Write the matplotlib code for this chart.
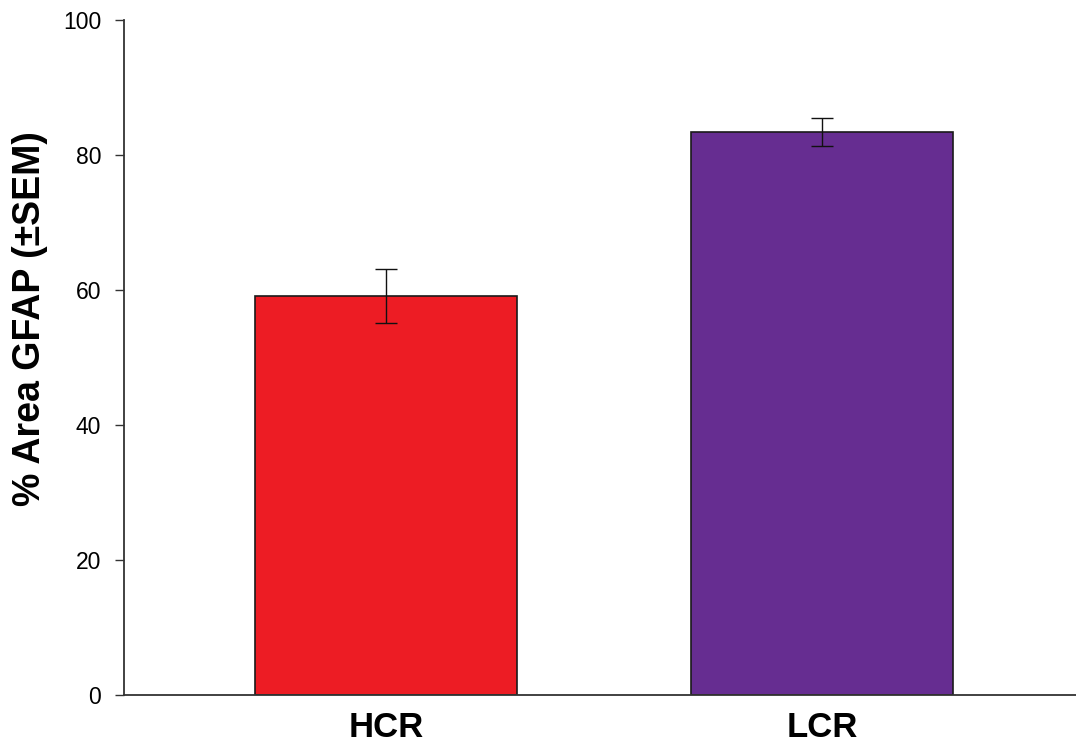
import matplotlib
matplotlib.use('Agg')
import matplotlib.pyplot as plt

# values
groups = ['HCR', 'LCR']
means = [59.1, 83.4]
sems = [4.0, 2.05]
colours = ['#ED1C24', '#662D91']

plt.rcParams['font.family'] = ['Liberation Sans', 'DejaVu Sans']

fig = plt.figure(figsize=(10.76, 7.49), dpi=100)
ax = fig.add_axes([124/1076, 1 - 694.7/749, 1 - 124/1076, (694.7 - 20)/749])

pos = range(len(groups))
ax.bar(pos, means, width=0.6, color=colours, edgecolor='#1a1a1a', linewidth=1.2, zorder=2)
ax.errorbar(pos, means, yerr=sems, fmt='none', ecolor='#111111', elinewidth=1.0,
            capsize=8, capthick=1.0, zorder=3)

ax.set_xlim(-0.601, 1.583)
ax.set_ylim(0, 100)
ax.set_yticks([0, 20, 40, 60, 80, 100])
ax.set_xticks(list(pos))
ax.set_xticklabels(groups, fontsize=25, fontweight='bold')

for s in ['top', 'right']:
    ax.spines[s].set_visible(False)
for s in ['left', 'bottom']:
    ax.spines[s].set_color('#333333')
    ax.spines[s].set_linewidth(1.3)

ax.tick_params(axis='x', length=0, pad=12)
ax.tick_params(axis='y', length=6.5, width=1, color='#333333', pad=10, labelsize=16.5)

ax.set_ylabel('% Area GFAP (±SEM)', fontsize=27, fontweight='bold', va='center')
ax.yaxis.set_label_coords(-0.0987, 0.5576)

fig.savefig('out.png', dpi=100)
